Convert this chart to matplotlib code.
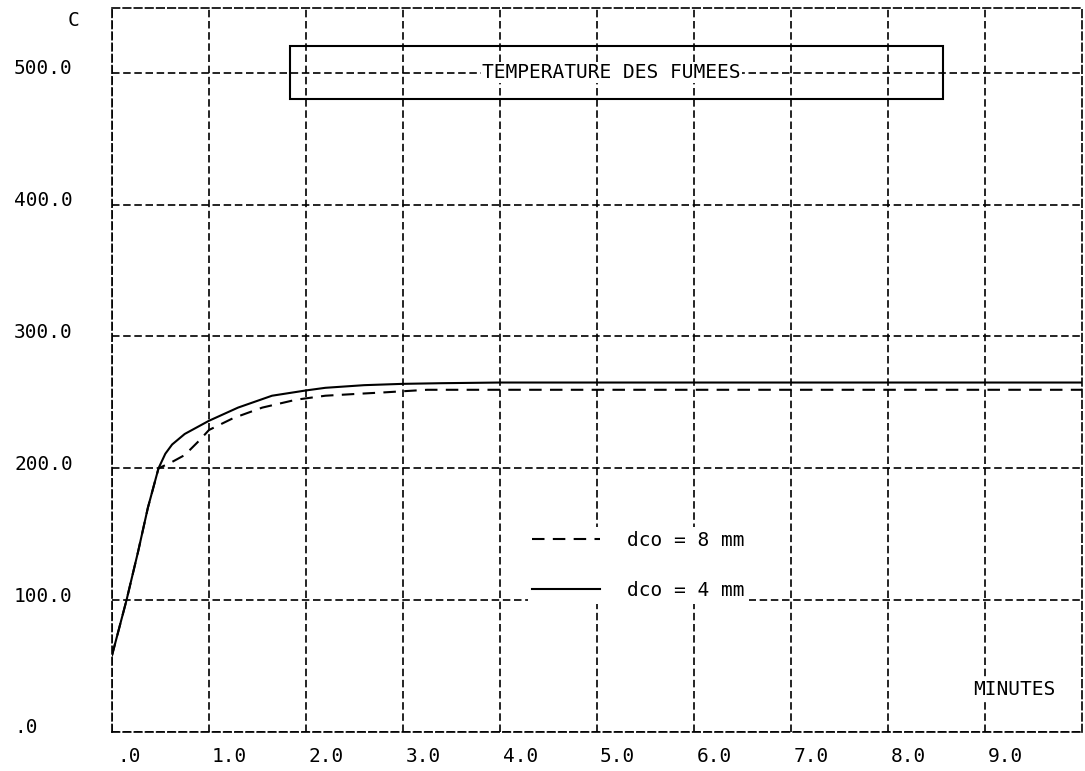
import matplotlib
matplotlib.use('Agg')

import matplotlib.pyplot as plt
import matplotlib.transforms as mtransforms
from matplotlib.patches import Rectangle

# Flue gas temperature vs time, two duct diameters
x_4mm = [0.0, 0.15, 0.27, 0.37, 0.48, 0.55, 0.62, 0.75, 1.0, 1.3, 1.65, 2.0, 2.2, 2.6, 3.0, 3.4, 4.0, 6.0, 8.0, 10.0]
t_4mm = [58, 100, 137, 170, 200, 211, 218, 226, 236, 246, 255, 259, 261, 263, 264, 264.5, 265, 265, 265, 265]

x_8mm = [0.0, 0.15, 0.27, 0.37, 0.48, 0.6, 0.75, 0.9, 1.0, 1.25, 1.55, 1.9, 2.2, 2.55, 2.8, 3.25, 4.0, 6.0, 8.0, 10.0]
t_8mm = [58, 100, 137, 170, 200, 204, 210, 221, 229, 238, 246, 252, 255, 256.5, 257.5, 259.5, 259.5, 259.5, 259.5, 259.5]

x_ticks = [0, 1, 2, 3, 4, 5, 6, 7, 8, 9]
x_labels = ['.0', '1.0', '2.0', '3.0', '4.0', '5.0', '6.0', '7.0', '8.0', '9.0']
y_ticks = [0, 100, 200, 300, 400, 500]
y_labels = ['.0', '100.0', '200.0', '300.0', '400.0', '500.0']

plt.rcParams['font.family'] = ['DejaVu Sans Mono']
fs = 14

fig = plt.figure(figsize=(10.85, 7.71), dpi=100)
ax = fig.add_axes([0.1032, 0.0506, 0.894, 0.939])
ax.set_xlim(0, 10)
ax.set_ylim(0, 549)

# dashed grid and frame
grid_style = (0, (4.5, 2.2))
ax.set_xticks(x_ticks)
ax.set_yticks(y_ticks)
ax.grid(True, color='black', linestyle=grid_style, linewidth=1.2)
ax.tick_params(length=0, labelbottom=False, labelleft=False)
for sp in ax.spines.values():
    sp.set_linestyle(grid_style)
    sp.set_linewidth(1.2)

ax.plot(x_8mm, t_8mm, color='black', lw=1.5, linestyle=(0, (6, 4)), label='dco = 8 mm')
ax.plot(x_4mm, t_4mm, color='black', lw=1.5, label='dco = 4 mm')

# tick labels like the plotter output
tr_y = mtransforms.blended_transform_factory(ax.transAxes, ax.transData)
for v, s in zip(y_ticks, y_labels):
    ax.text(-0.101, v, s, transform=tr_y + mtransforms.ScaledTranslation(0, 4 / 100, fig.dpi_scale_trans),
            ha='left', va='center', fontsize=fs, clip_on=False)
tr_x = mtransforms.blended_transform_factory(ax.transData, ax.transAxes)
for v, s in zip(x_ticks, x_labels):
    dx = 5 if v == 0 else 3
    ax.text(v, 0, s, transform=tr_x + mtransforms.ScaledTranslation(dx / 100, -25 / 100, fig.dpi_scale_trans),
            ha='left', va='center', fontsize=fs, clip_on=False)

ax.text(-0.04, 1.0, 'C', transform=ax.transAxes + mtransforms.ScaledTranslation(0, -12 / 100, fig.dpi_scale_trans),
        ha='center', va='center', fontsize=fs, clip_on=False)
ax.text(8.88, 32, 'MINUTES', ha='left', va='center', fontsize=fs,
        bbox=dict(facecolor='white', edgecolor='none', pad=1))

# title box
ax.add_patch(Rectangle((1.84, 480), 6.73, 40, fill=False, edgecolor='black', lw=1.5, zorder=3))
ax.text(5.15, 500, 'TEMPERATURE DES FUMEES', ha='center', va='center', fontsize=fs,
        bbox=dict(facecolor='white', edgecolor='none', pad=1), zorder=4)

leg = ax.legend(loc='upper left', bbox_to_anchor=(0.429, 0.283), fontsize=fs,
                handlelength=3.5, handletextpad=1.4, labelspacing=1.6,
                borderpad=0.2, borderaxespad=0, frameon=True, fancybox=False,
                facecolor='white', edgecolor='none', framealpha=1)

fig.savefig('out.png', dpi=100, facecolor='white')
